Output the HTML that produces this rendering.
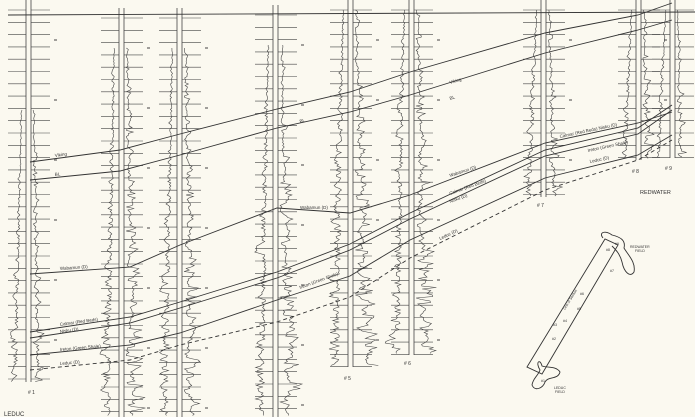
<!DOCTYPE html>
<html><head><meta charset="utf-8"><style>
html,body{margin:0;padding:0;background:#fbf9f0;}
svg{display:block}
text{font-family:"Liberation Sans",sans-serif;fill:#333}
</style></head><body>
<svg id="s" width="695" height="417" viewBox="0 0 695 417" xmlns="http://www.w3.org/2000/svg">
<rect width="695" height="417" fill="#fbf9f0"/>
<g id="wells" stroke="#444" fill="none" stroke-width="0.8"></g>
<g stroke="#333" fill="none" stroke-width="0.9">
<polyline points="8,15 695,12"/>
<polyline points="30,162 120,150 180,134 277,109 350,92 410,72 545,33 638,15 672,3"/>
<polyline points="30,180 120,171 180,155 277,128 350,112 410,95 545,53 638,30 672,20"/>
<polyline points="30,274 130,267 180,245 277,208 350,213 410,195 545,143 638,123 672,112"/>
<polyline points="30,332 130,317 180,302 277,272 350,244 410,213 545,150 638,128 672,105"/>
<polyline points="30,338 130,323 180,308 277,278 350,250 410,219 545,156 638,134 672,110"/>
<polyline points="30,355 130,345 180,333 277,300 350,276 410,240 545,178 638,155 672,135"/>
<polyline points="30,370 130,360 180,345 277,322 350,297 410,258 545,190 638,160 672,140" stroke-dasharray="4,3"/>
</g>
<g font-size="4.5">
<text x="55" y="157" transform="rotate(-8 55 157)">Viking</text>
<text x="55" y="176" transform="rotate(-8 55 176)">BL</text>
<text x="300" y="123" transform="rotate(-15 300 123)">BL</text>
<text x="450" y="84" transform="rotate(-16 450 84)">Viking</text>
<text x="450" y="100" transform="rotate(-16 450 100)">BL</text>
<text x="60" y="270" transform="rotate(-4 60 270)">Wabamun (D)</text>
<text x="300" y="209">Wabamun (D)</text>
<text x="450" y="177" transform="rotate(-18 450 177)">Wabamun (D)</text>
<text x="60" y="326" transform="rotate(-8 60 326)">Calmar (Red Beds)</text>
<text x="60" y="333" transform="rotate(-8 60 333)">Nisku (D)</text>
<text x="60" y="351" transform="rotate(-5 60 351)">Ireton (Green Shale)</text>
<text x="60" y="365" transform="rotate(-5 60 365)">Leduc (D)</text>
<text x="450" y="195" transform="rotate(-20 450 195)">Calmar (Red Beds)</text>
<text x="450" y="203" transform="rotate(-20 450 203)">Nisku (D)</text>
<text x="300" y="289" transform="rotate(-20 300 289)">Ireton (Green Shale)</text>
<text x="440" y="240" transform="rotate(-25 440 240)">Leduc (D)</text>
<text x="560" y="138" transform="rotate(-12 560 138)">Calmar (Red Beds) Nisku (D)</text>
<text x="588" y="152" transform="rotate(-12 588 152)">Ireton (Green Shale)</text>
<text x="590" y="163" transform="rotate(-12 590 163)">Leduc (D)</text>
</g>
<g font-size="5">
<text x="28" y="394"># 1</text>
<text x="344" y="380"># 5</text>
<text x="404" y="365"># 6</text>
<text x="537" y="207"># 7</text>
<text x="632" y="173"># 8</text>
<text x="665" y="170"># 9</text>
<text x="640" y="194" font-size="5.5">REDWATER</text>
<text x="4" y="416" font-size="6">LEDUC</text>
</g>
<g stroke="#333" fill="none" stroke-width="0.9">
<polygon points="527,367 605,239 618,245 542,374"/>
<path d="M603,238 C598,232 606,230 612,235 C620,237 626,240 624,248 C628,255 636,262 634,272 C630,278 624,272 622,262 C620,254 616,250 612,246"/>
<path d="M540,370 C535,362 540,358 542,366 C548,368 556,366 560,372 C558,380 548,376 545,382 C543,388 535,392 532,385 C533,378 538,376 540,370 Z"/>
</g>
<g font-size="3.5">
<text x="630" y="248">REDWATER</text><text x="635" y="252">FIELD</text>
<text x="554" y="389">LEDUC</text><text x="555" y="393">FIELD</text>
<text x="606" y="251">#8</text><text x="615" y="245">#9</text><text x="610" y="272">#7</text>
<text x="580" y="295">#6</text><text x="577" y="310">#5</text><text x="563" y="322">#4</text>
<text x="553" y="326">#3</text><text x="552" y="340">#2</text><text x="541" y="382">#1</text>
<text x="565" y="310" transform="rotate(-58 565 310)">Line of Section</text>
</g>
</svg>
<script>
(function(){
var g=document.getElementById('wells');var NS='http://www.w3.org/2000/svg';
var seed=7;function r(){seed=(seed*9301+49297)%233280;return seed/233280;}
function el(t,a){var e=document.createElementNS(NS,t);for(var k in a)e.setAttribute(k,a[k]);g.appendChild(e);return e;}
var wells=[[28,0,382,10],[121,8,417,15],[179,8,417,15],[275,5,417,18],[350,0,367,18],[411,0,355,18],[543,0,197,12],[638,0,160,10],[672,0,158,8]];
wells.forEach(function(w,i){
 var x=w[0],t=w[1],b=w[2];
 el('line',{x1:x-2,y1:t,x2:x-2,y2:b});el('line',{x1:x+3,y1:t,x2:x+3,y2:b});
 for(var y=t+10;y<b;y+=12.3){el('line',{x1:x-20,y1:y,x2:x-2,y2:y,'stroke-width':0.6});el('line',{x1:x+3,y1:y,x2:x+22,y2:y,'stroke-width':0.6});}
 for(var y=t+40;y<b;y+=60){el('line',{x1:x+26,y1:y,x2:x+29,y2:y,'stroke-width':1});}
 var start=t+(i==0?110:(i<4?40:10));
 var p1='',p2='';var act=w[3];var v1=0,v2=0;
 for(var y=start;y<b;y+=1.5){var f=(y-start)/(b-start);var a=act*(0.25+f*1.1);
  v1=v1*0.75+(r()-0.5)*a*0.6; v2=(r()<0.3)?r()*a:v2*0.6+r()*a*0.3;
  p1+=(x-6-Math.abs(v1)-f*5)+','+y+' ';p2+=(x+5+v2)+','+y+' ';}
 el('polyline',{points:p1,'stroke-width':0.6});el('polyline',{points:p2,'stroke-width':0.6});
});
})();
</script>
</body></html>
